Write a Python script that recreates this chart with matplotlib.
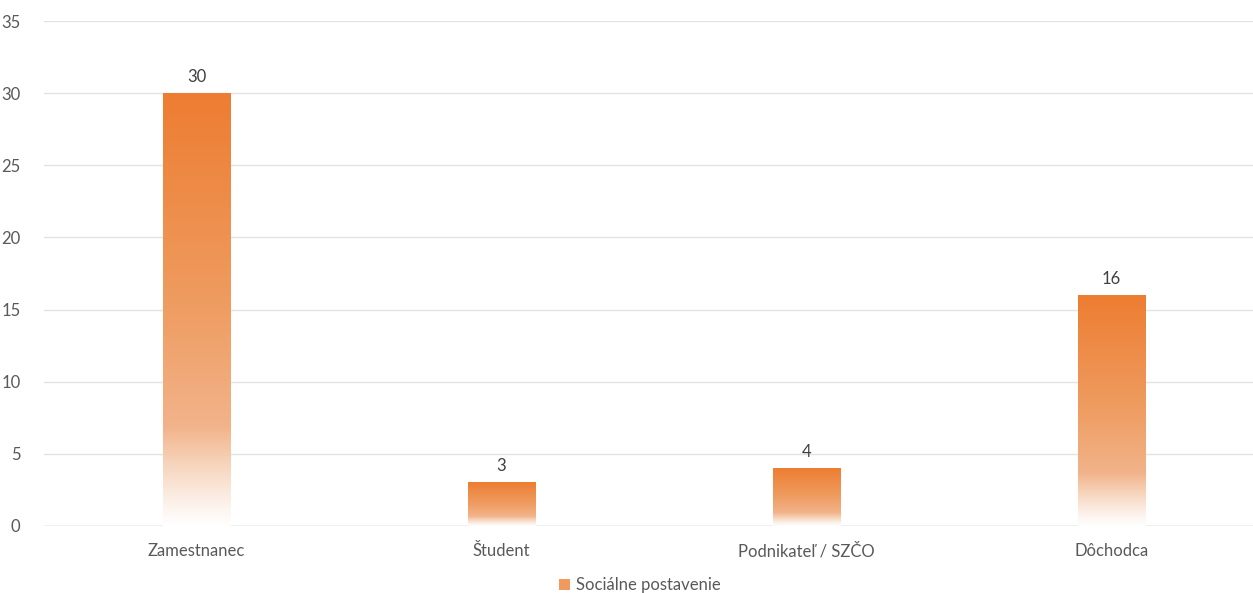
import matplotlib
matplotlib.use("Agg")
import matplotlib.pyplot as plt
import numpy as np
from matplotlib.colors import LinearSegmentedColormap
from matplotlib.patches import Patch

categories = ["Zamestnanec", "Študent", "Podnikateľ / SZČO", "Dôchodca"]
values = [30, 3, 4, 16]
series_name = "Sociálne postavenie"

plt.rcParams["font.family"] = ["Lato", "DejaVu Sans"]
text_color = "#595959"
label_color = "#404040"
grid_color = "#E2E2E2"

# bottom -> top gradient, like the Excel fill
grad = LinearSegmentedColormap.from_list(
    "bar_grad",
    [(0.0, "#FFFFFF"), (0.05, "#FCF2EB"), (0.14, "#F7D5BD"),
     (0.23, "#F2B38A"), (0.5, "#EF9D62"), (1.0, "#ED7D31")],
)

fig = plt.figure(figsize=(12.53, 5.93), dpi=100)
W, H = 1253, 593
ax = fig.add_axes([44 / W, (H - 526) / H, (1264 - 44) / W, (526 - 21) / H])

x = np.arange(len(categories))
bars = ax.bar(x, values, width=0.22, color="none", edgecolor="none", zorder=3)

ramp = np.linspace(0, 1, 256).reshape(-1, 1)
for b, v in zip(bars, values):
    x0, y0 = b.get_x(), b.get_y()
    ax.imshow(ramp, cmap=grad, origin="lower", aspect="auto",
              extent=(x0, x0 + b.get_width(), y0, y0 + b.get_height()),
              zorder=3, interpolation="bilinear")
    ax.annotate(str(v), (b.get_x() + b.get_width() / 2, b.get_height()),
                xytext=(0, 6), textcoords="offset points",
                ha="center", va="bottom", fontsize=12, color=label_color)

ax.set_xlim(-0.5, len(categories) - 0.5)
ax.set_ylim(0, 35)
ax.set_yticks(range(0, 36, 5))
ax.set_xticks(x)
ax.set_xticklabels(categories)
ax.tick_params(axis="both", length=0, labelsize=12, labelcolor=text_color)
ax.tick_params(axis="x", pad=12)
ax.tick_params(axis="y", pad=17)
ax.grid(axis="y", color=grid_color, linewidth=1, zorder=0)
ax.set_axisbelow(True)
for s in ax.spines.values():
    s.set_visible(False)
ax.axhline(0, color="#C8C8C8", linewidth=1, zorder=2)

handle = Patch(facecolor="#F09A5C", edgecolor="none")
fig.legend([handle], [series_name], loc="center", bbox_to_anchor=(640 / W, 1 - 585 / H),
           frameon=False, fontsize=12, handlelength=0.65, handleheight=0.65,
           handletextpad=0.4, labelcolor=text_color)

fig.savefig("out.png", dpi=100)
